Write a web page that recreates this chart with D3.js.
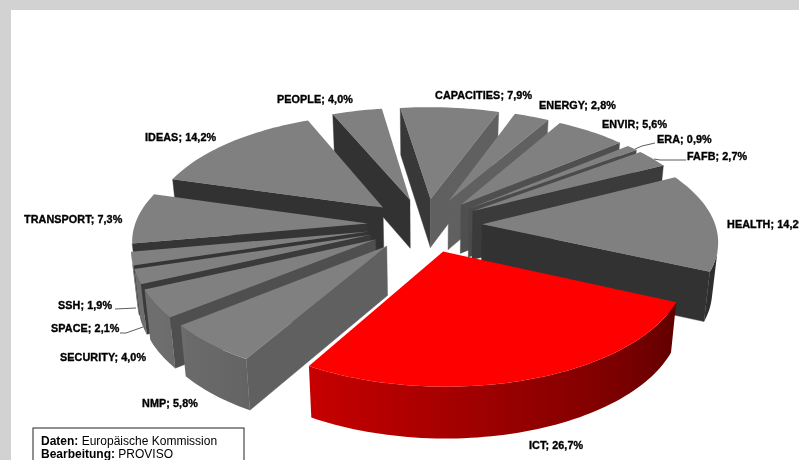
<!DOCTYPE html>
<html><head><meta charset="utf-8">
<script src="https://cdn.jsdelivr.net/npm/d3@7"></script>
<style>html,body{margin:0;padding:0;background:#fff;overflow:hidden}svg{display:block}</style>
</head><body><svg id="c" width="799" height="460"></svg>
<script>
const categories=["CAPACITIES","ENERGY","ENVIR","ERA","FAFB","HEALTH","ICT","NMP","SECURITY","SPACE","SSH","TRANSPORT","IDEAS","PEOPLE"];
const shares=[7.9,2.8,5.6,0.9,2.7,14.2,26.7,5.8,4.0,2.1,1.9,7.3,14.2,4.0];
const highlighted=["ICT"];
const labelText=shares.map((v,i)=>categories[i]+"; "+v.toFixed(1).replace(".",",")+"%");
// hand-placed label anchors as in the source chart: [left x, baseline y]
const labelAnchors=[[435,99],[539,109],[602,128],[657,143],[687,160],[727,228],[529,449],[142,407],[60,361],[51,332],[58,309],[24,223],[145,141],[277,103]];
const leaderLines={ERA:[[655,143],[642,146],[635,149]],FAFB:[[686,160],[660,160],[654,159]],SPACE:[[120,333],[126,333],[143,327]],SSH:[[115,309],[136,308]]};

const W=799,H=460,cx=425,cy=225,Rx=233,Ry=110,persp=0.13,depth=49,explode=0.246,taper=0.00042;
const rot=-8.5*Math.PI/180;
const project=(X,Y,Z)=>{const s=1/(1-persp*Y);return [cx+Rx*X*s*(1-taper*Z),cy+Ry*Y*s+Z*(1+0.3*(s-1))];};
const pie=d3.pie().sort(null).value(d=>d).startAngle(rot).endAngle(rot+2*Math.PI);
const arcs=pie(shares);
const deg=a=>{let d=a*180/Math.PI%360;return d<0?d+360:d;};
const wallShade=d3.scaleLinear().domain([0,60,114,210,235,262,300,360]).range([.5,.37,.37,.78,.86,.86,.7,.5]);
const faceShade=d3.scaleLinear().domain([0,110,122,141,152,171,247,262,360]).range([.75,.76,.76,.62,.46,.4,.4,.45,.75]);
const tint=(base,f)=>{const c=d3.rgb(base);return d3.rgb(c.r*f,c.g*f,c.b*f).formatHex();};
const line=d3.line();
const svg=d3.select("#c");
const defs=svg.append("defs");
defs.append("filter").attr("id","soft").attr("x",0).attr("y",0).attr("width",1).attr("height",1)
  .append("feGaussianBlur").attr("stdDeviation",0.4);
svg.append("rect").attr("width",W).attr("height",H).attr("fill","#d2d2d2");
svg.append("rect").attr("x",11).attr("y",10).attr("width",W-11).attr("height",H-10).attr("fill","#fff");
const g=svg.append("g").attr("filter","url(#soft)");

const slices=arcs.map((a,i)=>{
  const mid=(a.startAngle+a.endAngle)/2;
  return {a,i,mid,ox:explode*Math.sin(mid),oy:-explode*Math.cos(mid)};
}).sort((p,q)=>p.oy-q.oy);

slices.forEach(s=>{
  const base=highlighted.includes(categories[s.i])?"#ff0000":"#808080";
  const sg=g.append("g").attr("class","slice");
  const pt=(t,r,z)=>project(s.ox+r*Math.sin(t),s.oy-r*Math.cos(t),z);
  const t0=s.a.startAngle,t1=s.a.endAngle;
  const n=Math.max(2,Math.ceil((t1-t0)/(Math.PI/120)));
  const ts=d3.range(n+1).map(k=>t0+(t1-t0)*k/n);
  const startQ=[pt(t0,0,0),pt(t0,1,0),pt(t0,1,depth),pt(t0,0,depth)];
  const endQ=[pt(t1,0,0),pt(t1,1,0),pt(t1,1,depth),pt(t1,0,depth)];
  const face=(q,nrm)=>{const col=tint(base,faceShade(deg(nrm)));
    sg.append("path").attr("d",line(q)+"Z").attr("fill",col).attr("stroke",col).attr("stroke-width",.4);};
  if(d3.polygonArea(startQ)>0) face(startQ,t0-Math.PI/2);
  if(d3.polygonArea(endQ)<0) face(endQ,t1+Math.PI/2);
  // outer wall: one path with a horizontal gradient following the light
  const vis=d3.range(n).filter(k=>d3.polygonArea([pt(ts[k],1,0),pt(ts[k+1],1,0),pt(ts[k+1],1,depth),pt(ts[k],1,depth)])>0);
  if(vis.length){
    const tv=ts.slice(vis[0],vis[vis.length-1]+2);
    const tops=tv.map(t=>pt(t,1,0)),bots=tv.map(t=>pt(t,1,depth));
    const xs=tv.map(t=>pt(t,1,0)[0]);
    const x0=d3.min(xs),x1=d3.max(xs);
    const id="wall"+s.i;
    const gr=defs.append("linearGradient").attr("id",id).attr("gradientUnits","userSpaceOnUse")
      .attr("x1",x0).attr("x2",x1).attr("y1",0).attr("y2",0);
    tv.map((t,k)=>({o:(xs[k]-x0)/Math.max(1e-6,x1-x0),c:tint(base,wallShade(deg(t)))}))
      .sort((a,b)=>a.o-b.o)
      .forEach(d=>gr.append("stop").attr("offset",d.o).attr("stop-color",d.c));
    sg.append("path").attr("d",line(tops.concat(bots.reverse()))+"Z").attr("fill",`url(#${id})`);
  }
  const top=[pt(t0,0,0),...ts.map(t=>pt(t,1,0))];
  sg.append("path").attr("d",line(top)+"Z").attr("fill",base);
});

Object.values(leaderLines).forEach(l=>{
  g.append("path").attr("d",line(l)).attr("fill","none").attr("stroke","#333").attr("stroke-width",.8);
});
g.append("g").selectAll("text").data(labelText).join("text")
  .attr("x",(d,i)=>labelAnchors[i][0]).attr("y",(d,i)=>labelAnchors[i][1])
  .attr("font-family","Liberation Sans").attr("font-size",10.8).attr("font-weight",700)
  .attr("letter-spacing",0.08).attr("fill","#000").attr("stroke","#000").attr("stroke-width",.35)
  .text(d=>d);

const box=g.append("g");
box.append("rect").attr("x",33).attr("y",428).attr("width",211).attr("height",50)
  .attr("fill","#fff").attr("stroke","#222").attr("stroke-width",1);
const t1=box.append("text").attr("x",41).attr("y",445).attr("font-family","Liberation Sans").attr("font-size",12).attr("fill","#000");
t1.append("tspan").attr("font-weight",700).text("Daten: ");
t1.append("tspan").text("Europäische Kommission");
const t2=box.append("text").attr("x",41).attr("y",458).attr("font-family","Liberation Sans").attr("font-size",12).attr("fill","#000");
t2.append("tspan").attr("font-weight",700).text("Bearbeitung: ");
t2.append("tspan").text("PROVISO");
</script></body></html>
